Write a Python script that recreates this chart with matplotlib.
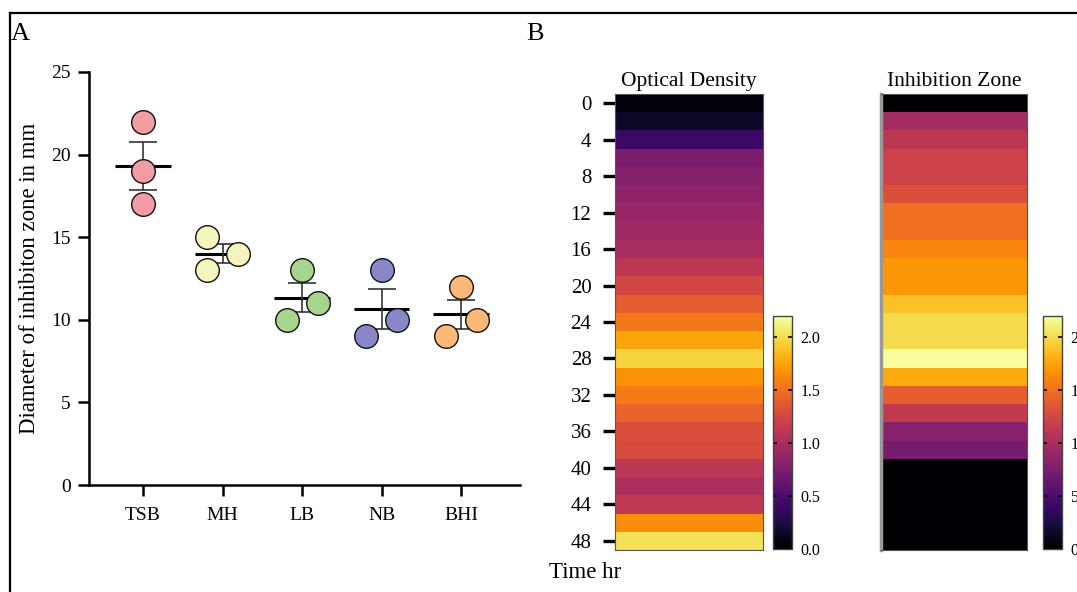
import numpy as np
import matplotlib
matplotlib.use("Agg")
import matplotlib.pyplot as plt
from matplotlib.lines import Line2D
from matplotlib.colors import Normalize
from matplotlib.cm import ScalarMappable

plt.rcParams['font.family'] = ['Liberation Serif', 'DejaVu Serif']

# ---------------- data ----------------
media = ["TSB", "MH", "LB", "NB", "BHI"]
tsb = [22, 19, 17]
mh = [15, 13, 14]
lb = [13, 10, 11]
nb = [13, 9, 10]
bhi = [12, 9, 10]
groups = [tsb, mh, lb, nb, bhi]
point_colors = ["#f49ca4", "#f4f4bc", "#a6d68e", "#8888c8", "#fbb877"]

time_hr = list(range(0, 49, 2))
optical_density = [0.04, 0.15, 0.40, 0.75, 0.80, 0.84, 0.90, 0.95, 0.99, 1.10,
                   1.25, 1.39, 1.54, 1.76, 1.96, 1.67, 1.56, 1.43, 1.30, 1.28,
                   1.10, 1.01, 1.12, 1.65, 2.02]
inhibition_zone = [0.0, 9.7, 11.0, 12.1, 12.1, 13.0, 15.0, 15.0, 16.1, 16.9,
                   16.9, 18.9, 20.0, 20.0, 21.8, 17.8, 14.0, 11.4, 8.1, 7.3,
                   0.0, 0.0, 0.0, 0.0, 0.0]
od_ticks = [0.0, 0.5, 1.0, 1.5, 2.0]
iz_ticks = [0, 5, 10, 15, 20]
time_ticks = list(range(0, 49, 4))


def swarm_offsets(vals, thresh, step):
    vals = np.asarray(vals, float)
    order = np.argsort(vals)
    offs = np.zeros(len(vals))
    clusters = []
    for i in order:
        if clusters and vals[i] - vals[clusters[-1][-1]] < thresh:
            clusters[-1].append(i)
        else:
            clusters.append([i])
    for cl in clusters:
        cols = []
        assign = {}
        for i in cl:
            for c, members in enumerate(cols):
                if all(abs(vals[i] - vals[j]) >= thresh for j in members):
                    members.append(i)
                    assign[i] = c
                    break
            else:
                cols.append([i])
                assign[i] = len(cols) - 1
        n = len(cols)
        for i in cl:
            offs[i] = (assign[i] - (n - 1) / 2) * step
    return offs


W, H = 1077, 592
fig = plt.figure(figsize=(W / 100, H / 100), dpi=100)


def fx(px):
    return px / W


def fy(py):
    return 1 - py / H


# frame
fig.add_artist(Line2D([fx(10), fx(10)], [fy(13), fy(600)], color="black", lw=1.6,
                      transform=fig.transFigure))
fig.add_artist(Line2D([fx(10), fx(1100)], [fy(13), fy(13)], color="black", lw=1.6,
                      transform=fig.transFigure))
fig.text(fx(11), fy(40), "A", fontsize=19, ha="left", va="baseline")
fig.text(fx(526), fy(40), "B", fontsize=19, ha="left", va="baseline")

# ---------------- panel A ----------------
axA = fig.add_axes([fx(89), fy(485), fx(520 - 89), (485 - 72) / H])
for gi, vals in enumerate(groups):
    offs = swarm_offsets(vals, 1.45, 0.39)
    m = np.mean(vals)
    sem = np.std(vals, ddof=1) / np.sqrt(len(vals))
    axA.plot([gi - 0.35, gi + 0.35], [m, m], color="black", lw=2.2, zorder=2,
             solid_capstyle="butt")
    axA.errorbar([gi], [m], yerr=[sem], fmt="none", ecolor="#333333",
                 elinewidth=1.2, capsize=10, capthick=1.2, zorder=2)
    axA.scatter(gi + offs, vals, s=17 ** 2, facecolor=point_colors[gi],
                edgecolor="#111111", linewidth=1.0, zorder=3, clip_on=False)

axA.set_xlim(-0.68, 4.74)
axA.set_ylim(0, 25)
axA.set_xticks(range(len(media)))
axA.set_xticklabels(media)
axA.set_yticks([0, 5, 10, 15, 20, 25])
for s in ["top", "right"]:
    axA.spines[s].set_visible(False)
for s in ["left", "bottom"]:
    axA.spines[s].set_linewidth(1.8)
axA.tick_params(axis="both", direction="out", length=8, width=1.8, labelsize=14)
axA.tick_params(axis="x", pad=8)
axA.tick_params(axis="y", pad=5)
axA.set_ylabel("Diameter of inhibiton zone in mm", fontsize=16.5, labelpad=8)

# ---------------- panel B ----------------
cmap = plt.get_cmap("inferno")
y_edges = np.arange(-1, 50, 2)
x_edges = np.array([0, 1])


def heat(ax, values, vmax, title):
    z = np.asarray(values).reshape(-1, 1)
    ax.pcolormesh(x_edges, y_edges, z, cmap=cmap, vmin=0, vmax=vmax)
    ax.set_ylim(49, -1)
    ax.set_xlim(0, 1)
    ax.set_xticks([])
    ax.set_title(title, fontsize=15.5, pad=6)
    for s in ax.spines.values():
        s.set_color("#555555")
        s.set_linewidth(0.8)


axOD = fig.add_axes([fx(615), fy(550), fx(763 - 615), 456 / H])
heat(axOD, optical_density, 2.2, "Optical Density")
axOD.set_yticks(time_ticks)
axOD.tick_params(axis="y", direction="out", length=9, width=2.4, labelsize=15, pad=8)
fig.text(fx(549), fy(578), "Time hr", fontsize=16.5, ha="left", va="baseline")

axIZ = fig.add_axes([fx(881), fy(550), fx(1027 - 881), 456 / H])
heat(axIZ, inhibition_zone, 22, "Inhibition Zone")
axIZ.set_yticks([])
axIZ.spines["left"].set_color("#999999")
axIZ.spines["left"].set_linewidth(2.5)


def cbar(left_px, vmax, ticks, labels):
    cax = fig.add_axes([fx(left_px), fy(549), fx(19), 233 / H])
    cb = fig.colorbar(ScalarMappable(norm=Normalize(0, vmax), cmap=cmap), cax=cax)
    cb.set_ticks(ticks)
    cb.set_ticklabels(labels)
    cb.outline.set_edgecolor("#444444")
    cb.outline.set_linewidth(1.0)
    cax.tick_params(direction="in", left=True, right=True, length=3, width=1.2,
                    labelsize=11.5, pad=6, color="black")
    return cb


cbar(773, 2.2, od_ticks, [f"{t:.1f}" for t in od_ticks])
cbar(1043, 22, iz_ticks, [str(t) for t in iz_ticks])

fig.savefig("out.png", dpi=100)
